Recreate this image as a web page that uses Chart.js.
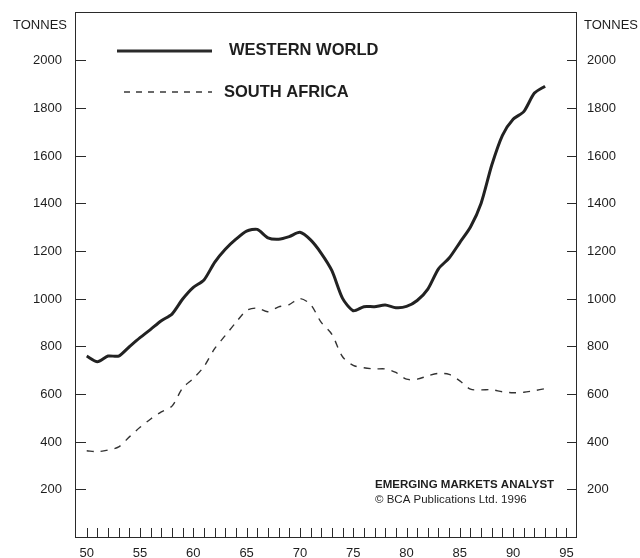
<!DOCTYPE html>
<html>
<head>
<meta charset="utf-8">
<script src="https://cdn.jsdelivr.net/npm/chart.js@4"></script>
<style>
  html, body { margin: 0; padding: 0; background: #fff; }
  #wrap { width: 640px; height: 558px; position: relative; }
</style>
</head>
<body>
<div id="wrap"><canvas id="goldChart" width="640" height="558"></canvas></div>
<script>
const years = [1950, 1951, 1952, 1953, 1954, 1955, 1956, 1957, 1958, 1959,
  1960, 1961, 1962, 1963, 1964, 1965, 1966, 1967, 1968, 1969,
  1970, 1971, 1972, 1973, 1974, 1975, 1976, 1977, 1978, 1979,
  1980, 1981, 1982, 1983, 1984, 1985, 1986, 1987, 1988, 1989,
  1990, 1991, 1992, 1993];

const westernWorld = [759, 735, 759, 759, 798, 836, 871, 907, 935, 998,
  1047, 1078, 1152, 1207, 1249, 1283, 1290, 1255, 1249, 1260,
  1278, 1246, 1190, 1117, 1001, 949, 966, 966, 973, 962,
  967, 992, 1040, 1125, 1170, 1235, 1300, 1400, 1560, 1685,
  1752, 1784, 1862, 1891];

const southAfrica = [362, 358, 365, 378, 420, 460, 495, 525, 549, 625,
  665, 715, 790, 845, 900, 950, 960, 945, 965, 975,
  1000, 975, 900, 850, 756, 720, 710, 705, 705, 690,
  662, 662, 676, 686, 682, 655, 620, 617, 618, 609,
  605, 607, 614, 622];

const yTicks = [200, 400, 600, 800, 1000, 1200, 1400, 1600, 1800, 2000];
const xLabels = [1950, 1955, 1960, 1965, 1970, 1975, 1980, 1985, 1990, 1995];

const ink = '#1e1e1e';
const font = '"Liberation Sans", Arial, sans-serif';

function toPoints(values) {
  return values.map((v, i) => ({ x: years[i], y: v }));
}

// box, ticks, labels, legend and note, all placed through the chart's scales
const framePlugin = {
  id: 'frame',
  afterDraw(chart) {
    const ctx = chart.ctx;
    const area = chart.chartArea;
    const xs = chart.scales.x;
    const ys = chart.scales.y;
    ctx.save();
    ctx.strokeStyle = '#2a2a2a';
    ctx.lineWidth = 1;
    ctx.strokeRect(area.left + 0.5, area.top + 0.5, area.right - area.left, area.bottom - area.top);

    ctx.fillStyle = ink;
    ctx.font = '13px ' + font;
    ctx.textBaseline = 'middle';
    yTicks.forEach(v => {
      const y = Math.round(ys.getPixelForValue(v)) + 0.5;
      ctx.beginPath();
      ctx.moveTo(area.left, y);
      ctx.lineTo(area.left + 11, y);
      ctx.moveTo(area.right, y);
      ctx.lineTo(area.right - 9, y);
      ctx.stroke();
      ctx.textAlign = 'right';
      ctx.fillText(String(v), 62, y);
      ctx.textAlign = 'left';
      ctx.fillText(String(v), 587, y);
    });

    ctx.textAlign = 'center';
    ctx.fillText('TONNES', 40, 25);
    ctx.fillText('TONNES', 611, 25);

    for (let yr = 1950; yr <= 1995; yr++) {
      const x = Math.round(xs.getPixelForValue(yr)) + 0.5;
      ctx.beginPath();
      ctx.moveTo(x, area.bottom);
      ctx.lineTo(x, area.bottom - 9);
      ctx.stroke();
    }
    xLabels.forEach(yr => {
      ctx.fillText(String(yr).slice(2), xs.getPixelForValue(yr), 553);
    });

    // legend
    ctx.lineWidth = 3;
    ctx.beginPath();
    ctx.moveTo(117, 51);
    ctx.lineTo(212, 51);
    ctx.stroke();
    ctx.lineWidth = 1.4;
    ctx.setLineDash([6, 6]);
    ctx.beginPath();
    ctx.moveTo(124, 92);
    ctx.lineTo(212, 92);
    ctx.stroke();
    ctx.setLineDash([]);
    ctx.textAlign = 'left';
    ctx.font = 'bold 16.5px ' + font;
    ctx.fillText('WESTERN WORLD', 229, 50);
    ctx.fillText('SOUTH AFRICA', 224, 92);

    // source note
    ctx.font = 'bold 11.5px ' + font;
    ctx.fillText('EMERGING MARKETS ANALYST', 375, 485);
    ctx.font = '11.5px ' + font;
    ctx.fillText('\u00A9 BCA Publications Ltd. 1996', 375, 500);
    ctx.restore();
  }
};

new Chart(document.getElementById('goldChart'), {
  type: 'line',
  data: {
    datasets: [{
      label: 'WESTERN WORLD',
      data: toPoints(westernWorld),
      borderColor: '#222',
      borderWidth: 3,
      pointRadius: 0,
      tension: 0.25,
      fill: false
    }, {
      label: 'SOUTH AFRICA',
      data: toPoints(southAfrica),
      borderColor: '#333',
      borderWidth: 1.4,
      borderDash: [7, 7],
      pointRadius: 0,
      tension: 0.3,
      fill: false
    }]
  },
  options: {
    responsive: false,
    animation: false,
    layout: { padding: { left: 75, right: 64, top: 12, bottom: 21 } },
    plugins: {
      legend: { display: false },
      tooltip: { enabled: false }
    },
    scales: {
      x: { type: 'linear', min: 1948.9, max: 1995.9, display: false },
      y: { type: 'linear', min: 0, max: 2202, display: false }
    }
  },
  plugins: [framePlugin]
});
</script>
</body>
</html>
